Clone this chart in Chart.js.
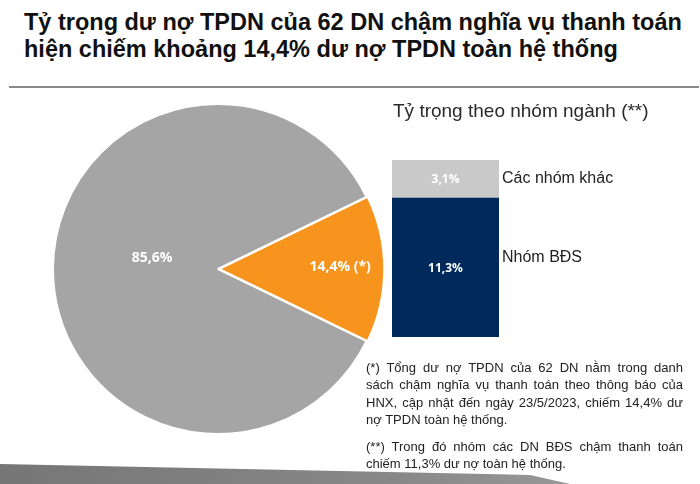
<!DOCTYPE html>
<html>
<head>
<meta charset="utf-8">
<script src="https://cdn.jsdelivr.net/npm/chart.js@4/dist/chart.umd.min.js"></script>
<style>
  html, body { margin: 0; padding: 0; background: #fff; }
  body { width: 700px; height: 484px; position: relative; overflow: hidden; font-family: "Liberation Sans", Arial, sans-serif; }
  .title { position: absolute; left: 24px; top: 9px; font-size: 23.5px; font-weight: bold; line-height: 27px; color: #111; white-space: nowrap; }
  .rule { position: absolute; left: 9px; top: 86px; width: 690px; height: 2px; background: #8a8a8a; }
  .pie-box { position: absolute; left: 43px; top: 94px; width: 350px; height: 350px; }
  .bar-box { position: absolute; left: 380px; top: 95px; width: 320px; height: 250px; }
  .note { position: absolute; left: 366px; top: 359px; width: 317px; font-size: 13px; line-height: 17.3px; color: #222; }
  .note p { margin: 0 0 10px 0; }
  .note span { display: block; text-align: justify; text-align-last: justify; white-space: nowrap; }
  .note span.end { text-align-last: left; }
  .band { position: absolute; left: 0; top: 464px; width: 570px; height: 20px; background: linear-gradient(90deg, #767676, #888 70%, #979797); clip-path: polygon(0 0, 93% 55%, 100% 100%, 0 100%); }
</style>
</head>
<body>
<div class="title">Tỷ trọng dư nợ TPDN của 62 DN chậm nghĩa vụ thanh toán<br>hiện chiếm khoảng 14,4% dư nợ TPDN toàn hệ thống</div>
<div class="rule"></div>
<div class="pie-box"><canvas id="pieChart"></canvas></div>
<div class="bar-box"><canvas id="barChart"></canvas></div>
<div class="note">
  <p><span>(*) Tổng dư nợ TPDN của 62 DN nằm trong danh</span><span>sách chậm nghĩa vụ thanh toán theo thông báo của</span><span>HNX, cập nhật đến ngày 23/5/2023, chiếm 14,4% dư</span><span class="end">nợ TPDN toàn hệ thống.</span></p>
  <p><span>(**) Trong đó nhóm các DN BĐS chậm thanh toán</span><span class="end">chiếm 11,3% dư nợ toàn hệ thống.</span></p>
</div>
<div class="band"></div>

<script>
// ===== DATA =====
const pieLabels = ['14,4% (*)', '85,6%'];
const pieValues = [14.4, 85.6];
const pieColors = ['#F7941D', '#A5A5A5'];

const barCategories = ['Nhóm BĐS', 'Các nhóm khác'];
const barValues = [11.3, 3.1];
const barValueLabels = ['11,3%', '3,1%'];
const barColors = ['#002A5C', '#C9C9C9'];

const barTitle = 'Tỷ trọng theo nhóm ngành (**)';

// ===== PIE =====
// orange slice centred on the right side (3 o'clock)
const pieRotation = 90 - pieValues[0] * 3.6 / 2;

const pieLabelPlugin = {
    id: 'pieLabels',
    afterDatasetsDraw(chart) {
        const ctx = chart.ctx;
        const arcs = chart.getDatasetMeta(0).data;
        const ratios = [0.74, 0.4];
        const nudgeY = [-2, -11];
        ctx.save();
        ctx.font = 'bold 14px "Open Sans", sans-serif';
        ctx.fillStyle = '#fff';
        ctx.textAlign = 'center';
        ctx.textBaseline = 'middle';
        arcs.forEach((arc, i) => {
            const mid = (arc.startAngle + arc.endAngle) / 2;
            const r = arc.outerRadius * ratios[i];
            const x = arc.x + Math.cos(mid) * r;
            const y = arc.y + Math.sin(mid) * r + nudgeY[i];
            ctx.fillText(pieLabels[i], x, y);
        });
        ctx.restore();
    }
};

new Chart(document.getElementById('pieChart'), {
    type: 'pie',
    data: {
        labels: pieLabels,
        datasets: [{
            data: pieValues,
            backgroundColor: pieColors,
            borderColor: '#fff',
            borderWidth: 2,
            offset: [4, 0]
        }]
    },
    options: {
        responsive: true,
        maintainAspectRatio: false,
        animation: false,
        rotation: pieRotation,
        radius: 165,
        layout: { padding: 0 },
        plugins: { legend: { display: false }, tooltip: { enabled: false } }
    },
    plugins: [pieLabelPlugin]
});

// ===== STACKED BAR =====
const barTextPlugin = {
    id: 'barText',
    afterDatasetsDraw(chart) {
        const ctx = chart.ctx;
        const area = chart.chartArea;
        const nudgeY = [-10, 0];
        ctx.save();
        // heading
        ctx.font = '19px "Liberation Sans", Arial, sans-serif';
        ctx.fillStyle = '#2a2a2a';
        ctx.textAlign = 'left';
        ctx.textBaseline = 'middle';
        ctx.fillText(barTitle, 13, 17);

        chart.data.datasets.forEach((ds, i) => {
            const bar = chart.getDatasetMeta(i).data[0];
            const midY = (bar.y + bar.base) / 2;
            // value inside segment
            ctx.font = 'bold 12px "Open Sans", sans-serif';
            ctx.fillStyle = '#fff';
            ctx.textAlign = 'center';
            ctx.fillText(barValueLabels[i], bar.x, midY + 1);
            // category to the right
            ctx.font = '16px "Liberation Sans", Arial, sans-serif';
            ctx.fillStyle = '#222';
            ctx.textAlign = 'left';
            ctx.fillText(barCategories[i], area.right + 3, midY + nudgeY[i]);
        });
        ctx.restore();
    }
};

new Chart(document.getElementById('barChart'), {
    type: 'bar',
    data: {
        labels: [''],
        datasets: barValues.map((v, i) => ({
            label: barCategories[i],
            data: [v],
            backgroundColor: barColors[i],
            barPercentage: 1,
            categoryPercentage: 1
        }))
    },
    options: {
        responsive: true,
        maintainAspectRatio: false,
        animation: false,
        layout: { padding: { left: 12, right: 201, top: 65, bottom: 8 } },
        scales: {
            x: { stacked: true, display: false },
            y: { stacked: true, display: false, min: 0, max: barValues.reduce((a, b) => a + b, 0) }
        },
        plugins: { legend: { display: false }, tooltip: { enabled: false } }
    },
    plugins: [barTextPlugin]
});
</script>
</body>
</html>
